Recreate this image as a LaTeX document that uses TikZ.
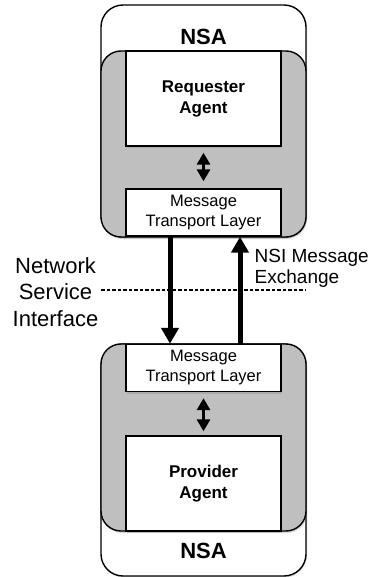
\documentclass[tikz,border=0pt]{standalone}
\usepackage{fontspec}
\setmainfont{Liberation Sans}
\definecolor{nsagray}{RGB}{191,191,191}
\usetikzlibrary{arrows.meta, positioning, shadows}

\begin{document}
\begin{tikzpicture}[x=1pt, y=-1pt,
  nsabox/.style={draw, line width=1.4pt, fill=white, rounded corners=22pt,
    minimum width=205pt, minimum height=232pt, inner sep=0pt,
    drop shadow={shadow xshift=1pt, shadow yshift=-1.5pt, opacity=0.25}},
  corebox/.style={draw, line width=1.4pt, fill=nsagray, rounded corners=20pt,
    minimum width=205pt, inner sep=0pt,
    drop shadow={shadow xshift=1pt, shadow yshift=-2pt, opacity=0.3}},
  agentbox/.style={draw, line width=1.4pt, fill=white, minimum width=155pt,
    minimum height=95pt, inner sep=0pt, align=center,
    font=\fontsize{17}{21}\selectfont\bfseries,
    drop shadow={shadow xshift=1pt, shadow yshift=-2pt, opacity=0.3}},
  layerbox/.style={draw, line width=1.4pt, fill=white, minimum width=155pt,
    minimum height=47pt, inner sep=0pt, align=center,
    font=\fontsize{16.5}{20}\selectfont,
    drop shadow={shadow xshift=1pt, shadow yshift=-2pt, opacity=0.3}},
  nsatitle/.style={font=\fontsize{22}{24}\selectfont\bfseries, inner sep=0pt},
  linkarrow/.style={line width=3pt,
    {Triangle[width=13pt,length=12pt]}-{Triangle[width=13pt,length=12pt]}},
  msgarrow/.style={line width=5pt, -{Triangle[width=17pt,length=16pt]}}
]
\useasboundingbox (0,0) rectangle (369,577);

% requester side
\node[nsabox] (topnsa) at (203.5,121) {};
\node[nsatitle] (toptitle) at (203.5,37) {NSA};
\node[corebox, minimum height=186pt] (topcore) at (203.5,144) {};
\node[agentbox] (requester) at (203.5,98.5) {Requester\\Agent};
\node[layerbox] (reqlayer) at (203.5,212.5) {Message\\Transport Layer};
\draw[linkarrow, shorten <=6pt, shorten >=7pt] (requester) -- (reqlayer);

% provider side
\node[nsabox] (botnsa) at (203.5,460) {};
\node[nsatitle] (bottitle) at (203.5,551) {NSA};
\node[corebox, minimum height=187pt] (botcore) at (203.5,437.5) {};
\node[layerbox] (provlayer) at (203.5,368) {Message\\Transport Layer};
\node[agentbox] (provider) at (203.5,483.5) {Provider\\Agent};
\draw[linkarrow, shorten <=6pt, shorten >=4pt] (provlayer) -- (provider);

% interface between the two
\node[inner sep=0pt, align=center, font=\fontsize{22}{26.5}\selectfont] (nsilabel) at (55.5,292) {Network\\Service\\Interface};
\coordinate (dashleft) at (101,290);
\coordinate (dashright) at (306,290);
\draw[line width=1.2pt, dash pattern=on 3.5pt off 2pt] (dashleft) -- (dashright);

\draw[msgarrow] ([xshift=-33.5pt]reqlayer.south) -- ([xshift=-33.5pt]provlayer.north);
\draw[msgarrow] ([xshift=36.5pt]provlayer.north) -- ([xshift=36.5pt]reqlayer.south);
\node[inner sep=0pt, anchor=west, align=left, font=\fontsize{19}{21}\selectfont] (exchange) at (254.5,268) {NSI Message\\Exchange};
\end{tikzpicture}
\end{document}
